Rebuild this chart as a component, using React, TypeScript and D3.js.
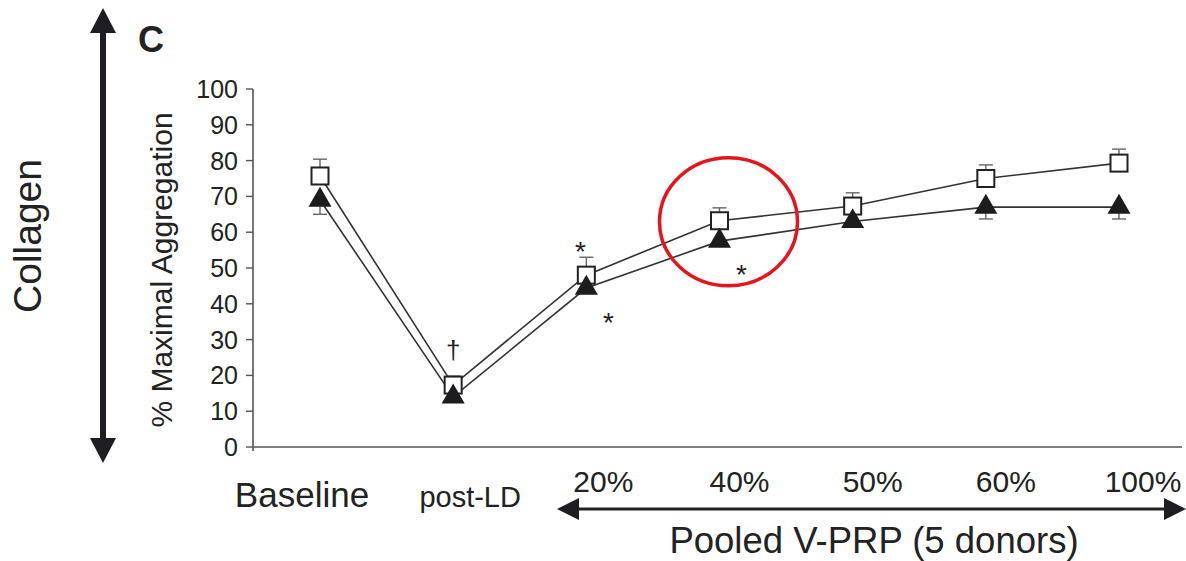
import React from "react";
import * as d3 from "d3";

const width = 1186;
const height = 561;

// categories and series
const categories = ["Baseline", "post-LD", "20%", "40%", "50%", "60%", "100%"];
const openSquare = [75.7, 17.3, 48, 63.2, 67.3, 75, 79.3];
const openSquareErr = [4.7, 2.5, 5, 3.6, 3.7, 3.8, 3.9];
const filledTriangle = [69, 14, 44.4, 57.5, 63, 67, 67];
const filledTriangleErr = [4, 1.5, 1.5, 1, 1, 3.3, 3.3];
const yTicks = [0, 10, 20, 30, 40, 50, 60, 70, 80, 90, 100];

// significance marks: [category, value, symbol, dx]
const marks: [string, number, string, number][] = [
  ["post-LD", 24.5, "†", 0],
  ["20%", 52, "*", -6],
  ["20%", 32, "*", 22],
  ["40%", 45.5, "*", 22],
];

// label shift from the point position
const labelShift = [-18, 17, 17, 20, 20, 20, 24];

const font = "'Liberation Sans', Arial, Helvetica, sans-serif";

export default function App() {
  const x = d3.scalePoint<string>().domain(categories).range([320, 1119]);
  const y = d3.scaleLinear().domain([0, 100]).range([447, 89]);

  const line = d3
    .line<number>()
    .x((_, i) => x(categories[i])!)
    .y((d) => y(d));

  const axisX = 253;
  const ink = "#222";
  const tri = d3.symbol(d3.symbolTriangle, 230)()!;

  return (
    <svg width={width} height={height} style={{ display: "block", position: "absolute", left: 0, top: 0 }}>
      <rect width={width} height={height} fill="#fff" />

      {/* left double arrow */}
      <line x1={103} x2={103} y1={28} y2={442} stroke="#1e1e22" strokeWidth={6} />
      <path d="M103,8 L90,33 L116,33 Z" fill="#1e1e22" />
      <path d="M103,463 L90,438 L116,438 Z" fill="#1e1e22" />
      <text
        transform="translate(41,236) rotate(-90)"
        textAnchor="middle"
        fontFamily={font}
        fontSize={39}
        fill="#222"
      >
        Collagen
      </text>
      <text x={138} y={52} fontFamily={font} fontSize={36} fontWeight="bold" fill="#222">
        C
      </text>

      {/* y axis */}
      <line x1={axisX} x2={axisX} y1={y(100)} y2={y(0) + 4} stroke="#555" strokeWidth={1.6} />
      {yTicks.map((t) => (
        <g key={t}>
          <line x1={axisX - 7} x2={axisX} y1={y(t)} y2={y(t)} stroke="#555" strokeWidth={1.4} />
          <text
            x={axisX - 15}
            y={y(t) + 9}
            textAnchor="end"
            fontFamily={font}
            fontSize={25}
            fill="#222"
          >
            {t}
          </text>
        </g>
      ))}
      <text
        transform={`translate(172,${(y(0) + y(100)) / 2 + 2}) rotate(-90)`}
        textAnchor="middle"
        fontFamily={font}
        fontSize={30}
        fill="#222"
      >
        % Maximal Aggregation
      </text>

      {/* x axis */}
      <line x1={axisX} x2={1182} y1={y(0)} y2={y(0)} stroke="#555" strokeWidth={1.6} />

      {/* lines */}
      <path d={line(openSquare)!} fill="none" stroke="#333" strokeWidth={1.6} />
      <path d={line(filledTriangle)!} fill="none" stroke="#333" strokeWidth={1.6} />

      {/* error bars */}
      {openSquare.map((v, i) => {
        const cx = x(categories[i])!;
        return (
          <g key={"es" + i} stroke="#666" strokeWidth={1.4}>
            <line x1={cx} x2={cx} y1={y(v)} y2={y(v + openSquareErr[i])} />
            <line x1={cx - 7} x2={cx + 7} y1={y(v + openSquareErr[i])} y2={y(v + openSquareErr[i])} />
          </g>
        );
      })}
      {filledTriangle.map((v, i) => {
        const cx = x(categories[i])!;
        return (
          <g key={"et" + i} stroke="#666" strokeWidth={1.4}>
            <line x1={cx} x2={cx} y1={y(v)} y2={y(v - filledTriangleErr[i])} />
            <line x1={cx - 7} x2={cx + 7} y1={y(v - filledTriangleErr[i])} y2={y(v - filledTriangleErr[i])} />
          </g>
        );
      })}

      {/* markers */}
      {openSquare.map((v, i) => (
        <rect
          key={"s" + i}
          x={x(categories[i])! - 8.5}
          y={y(v) - 8.5}
          width={17}
          height={17}
          fill="#fff"
          stroke={ink}
          strokeWidth={2}
        />
      ))}
      {filledTriangle.map((v, i) => (
        <path
          key={"t" + i}
          d={tri}
          transform={`translate(${x(categories[i])},${y(v)})`}
          fill="#1c1c1e"
        />
      ))}

      {/* significance marks */}
      {marks.map(([c, v, s, dx], i) => (
        <text
          key={"m" + i}
          x={x(c)! + dx}
          y={y(v)}
          textAnchor="middle"
          fontFamily={font}
          fontSize={s === "†" ? 26 : 28}
          fill="#222"
        >
          {s}
        </text>
      ))}

      {/* highlight ellipse */}
      <ellipse
        cx={(x("40%")! + 9)}
        cy={y(63.5) + 2}
        rx={69}
        ry={64}
        fill="none"
        stroke="#e8141b"
        strokeWidth={3.5}
      />

      {/* category labels */}
      {categories.map((c, i) => (
        <text
          key={c}
          x={x(c)! + labelShift[i]}
          y={i < 2 ? 507 : 492}
          textAnchor="middle"
          fontFamily={font}
          fontSize={i === 0 ? 35 : i === 1 ? 29 : 30}
          fill="#222"
        >
          {c}
        </text>
      ))}

      {/* bottom double arrow */}
      <line x1={570} x2={1172} y1={509} y2={509} stroke="#222" strokeWidth={3} />
      <path d="M557,509 L579,498 L579,520 Z" fill="#1e1e22" />
      <path d="M1186,509 L1164,498 L1164,520 Z" fill="#1e1e22" />
      <text x={874} y={553} textAnchor="middle" fontFamily={font} fontSize={36.5} fill="#222">
        Pooled V-PRP (5 donors)
      </text>
    </svg>
  );
}
